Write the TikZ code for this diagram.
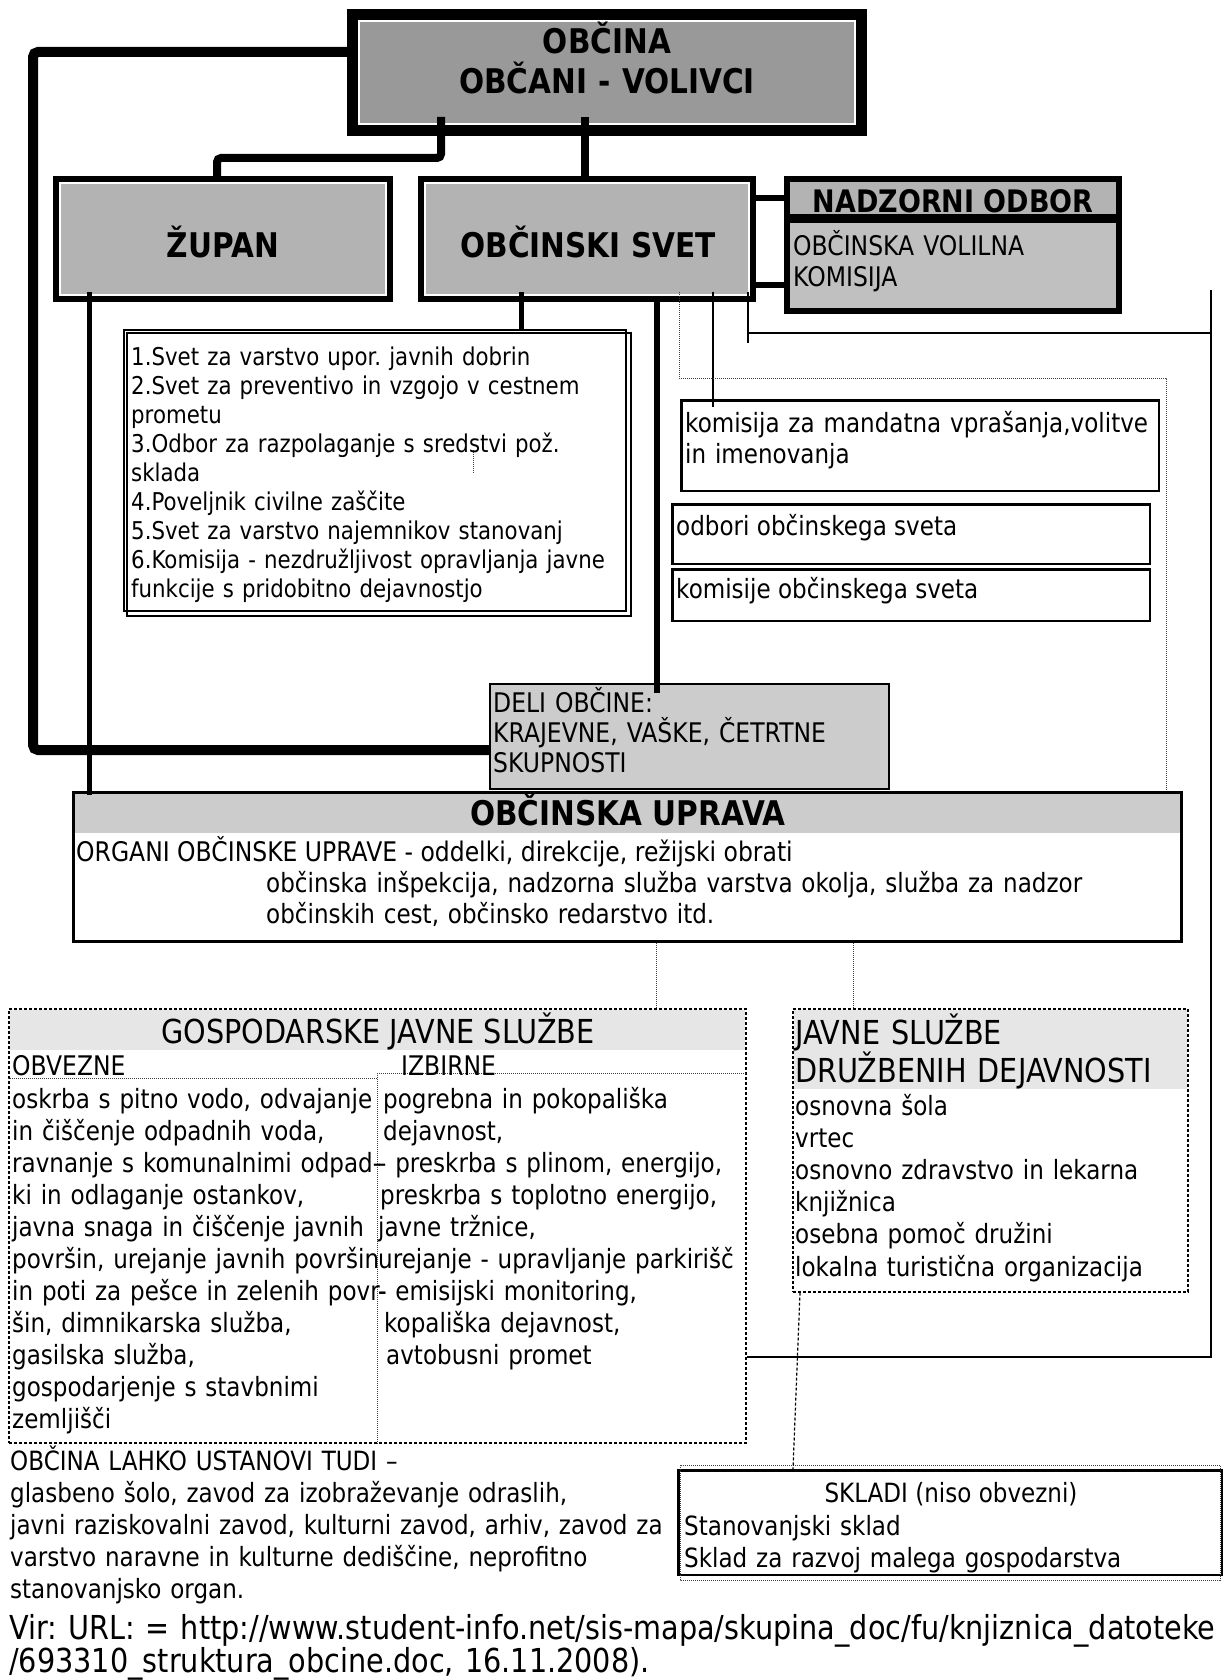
\documentclass[tikz,border=0pt]{standalone}
\usepackage{fontspec}
\setmainfont{DejaVu Sans}[FakeStretch=0.87]
\usepackage{xcolor}
\usepackage{tikz}
\usetikzlibrary{calc}

\definecolor{darkgr}{HTML}{999999}
\definecolor{midgr}{HTML}{B3B3B3}
\definecolor{lightgr}{HTML}{C0C0C0}
\definecolor{paleg}{HTML}{CCCCCC}
\definecolor{palest}{HTML}{E6E6E6}

\newcommand{\fsz}[2]{\fontsize{#1}{#2}\selectfont}
\frenchspacing

\begin{document}
\begin{tikzpicture}[x=1pt,y=-1pt,
  mainbox/.style={draw, line width=11pt, fill=darkgr, inner sep=0pt},
  headbox/.style={draw, line width=6pt, fill=midgr, inner sep=0pt},
  plainbox/.style={draw, line width=2.5pt, inner sep=0pt},
  dashbox/.style={draw, line width=1.2pt, dash pattern=on 3pt off 2pt, inner sep=0pt},
  txt/.style={anchor=base west, inner sep=0pt, align=left},
  bevel/.style={white, line width=2pt},
  bigline/.style={line width=10pt, rounded corners=5pt},
  midline/.style={line width=8pt, rounded corners=4pt},
  conn/.style={line width=5pt},
  thinconn/.style={line width=2.5pt},
  dotconn/.style={densely dotted, line width=1pt, black!75},
  dashconn/.style={dash pattern=on 3pt off 2pt, line width=1.2pt}]

\useasboundingbox (0,0) rectangle (1224,1680);

% Top level
\node[mainbox, minimum width=509pt, minimum height=116pt] (obcina) at (607,72.5) {};
\draw[bevel] ($(obcina.north west)+(12,12)$) rectangle ($(obcina.south east)+(-12,-12)$);
\node[headbox, minimum width=334pt, minimum height=120pt] (zupan) at (223,239) {};
\draw[bevel] ($(zupan.north west)+(7,7)$) rectangle ($(zupan.south east)+(-7,-7)$);
\node[headbox, minimum width=332pt, minimum height=120pt] (svet) at (587,239) {};
\draw[bevel] ($(svet.north west)+(7,7)$) rectangle ($(svet.south east)+(-7,-7)$);
\node[headbox, fill=lightgr, minimum width=332pt, minimum height=91pt] (volilna) at (953,265.5) {};
\node[headbox, minimum width=332pt, minimum height=38pt] (nadzor) at (953,198) {};

% Council bodies
\node[plainbox, line width=2pt, minimum width=502pt, minimum height=281pt] (rady) at (375,470.5) {};
\draw[line width=2pt] ($(rady.north west)+(4,4)$) rectangle ($(rady.south east)+(4,4)$);
\node[plainbox, minimum width=477.5pt, minimum height=90.5pt] (mandat) at (920,445.5) {};
\node[plainbox, minimum width=477.5pt, minimum height=59.5pt] (odbori) at (911,534) {};
\node[plainbox, minimum width=477.5pt, minimum height=51.5pt] (komisije) at (911,595) {};

% Administration
\node[plainbox, line width=2pt, fill=paleg, minimum width=399pt, minimum height=105pt] (deli) at (689.5,736.5) {};
\node[plainbox, line width=3pt, minimum width=1108pt, minimum height=149pt] (uprava) at (627.5,867) {};
\fill[paleg] ($(uprava.north west)+(3,3)$) rectangle ($(uprava.north east)+(-3,42)$);

% Public services
\node[dashbox, minimum width=737pt, minimum height=434pt] (gosp) at (377.5,1226) {};
\fill[palest] ($(gosp.north west)+(1.5,1.5)$) rectangle ($(gosp.north east)+(-1.5,42)$);
\node[dashbox, minimum width=395pt, minimum height=283pt] (javne) at (990.5,1150.5) {};
\fill[palest] ($(javne.north west)+(1.5,1.5)$) rectangle ($(javne.north east)+(-1.5,81)$);

% Funds
\node[plainbox, minimum width=543.5pt, minimum height=104.5pt] (sklad) at (950,1522.5) {};
\draw[dotconn] (680,1465) rectangle (1220,1580);

% Connectors
\draw[bigline] (obcina.west |- 0,52) -| (33,750) -- (deli.west |- 0,750);
\draw[midline, shorten <=-19pt] (obcina.south -| 441,0) |- (217,158) -- (zupan.north -| 217,0);
\draw[midline, shorten <=-19pt] (obcina.south -| 585,0) -- (svet.north -| 585,0);
\draw[conn, shorten <=-10pt, shorten >=-4pt] (zupan.south -| 89,0) -- (uprava.north -| 89,0);
\draw[conn, shorten <=-10pt] (svet.south -| 521,0) -- (rady.north -| 521,0);
\draw[conn, line width=6pt, shorten >=-10pt] (svet.south -| 657,0) -- (deli.north -| 657,0);
\draw[conn, line width=6pt] (svet.east |- nadzor.west) -- (nadzor.west);
\draw[conn, line width=6pt] (svet.east |- 0,285) -- (volilna.west |- 0,285);
\draw[thinconn, shorten <=-10pt, shorten >=-8pt] (svet.south -| 713,0) -- (mandat.north -| 713,0);
\draw[thinconn, shorten <=-10pt] (svet.south -| 748,0) -- (748,343);
\draw[thinconn] (748,333) -- (1211,333);
\draw[thinconn] (1211,290) -- (1211,1357) -- (gosp.east |- 0,1357);
\draw[dotconn, shorten <=-10pt] (svet.south -| 679,0) -- (679,378) -- (1166,378) -- (uprava.north -| 1166,0);
\draw[dotconn] (uprava.south -| 656,0) -- (gosp.north -| 656,0);
\draw[dotconn] (uprava.south -| 853,0) -- (javne.north -| 853,0);
\draw[dashconn] (javne.south -| 800,0) -- (sklad.north -| 793,0);
\draw[dotconn] (473,450) -- (473,473);

% Columns of the services
\draw[dotconn] (gosp.west |- 0,1078) -- (377,1078);
\draw[dotconn] (377,1073) -- (gosp.east |- 0,1073);
\draw[dotconn] (377,1073) -- (gosp.south -| 377,0);

% Texts
\node[txt, font=\fsz{34}{40}\bfseries, align=center, text width=500pt, anchor=base] (obcinatxt) at (607,54) {OBČINA\\OBČANI - VOLIVCI};
\node[txt, font=\fsz{34}{40}\bfseries, anchor=base] (zupantxt) at (223,258) {ŽUPAN};
\node[txt, font=\fsz{34}{40}\bfseries, anchor=base] (svettxt) at (588,258) {OBČINSKI SVET};
\node[txt, font=\fsz{31}{36}\bfseries, anchor=base] (nadzortxt) at (953,213) {NADZORNI ODBOR};
\node[txt, font=\fsz{27}{32}, text width=600pt] (volilnatxt) at (793,255) {OBČINSKA VOLILNA\\KOMISIJA};

\node[txt, font=\fsz{24.5}{29}, text width=700pt] (radytxt) at (131,365) {1.Svet za varstvo upor. javnih dobrin\\
2.Svet za preventivo in vzgojo v cestnem\\
prometu\\
3.Odbor za razpolaganje s sredstvi pož.\\
sklada\\
4.Poveljnik civilne zaščite\\
5.Svet za varstvo najemnikov stanovanj\\
6.Komisija - nezdružljivost opravljanja javne\\
funkcije s pridobitno dejavnostjo};
\node[txt, font=\fsz{26.5}{31}, text width=700pt] (mandattxt) at (685,432) {komisija za mandatna vprašanja,volitve\\in imenovanja};
\node[txt, font=\fsz{26.5}{31}] (odboritxt) at (676,535) {odbori občinskega sveta};
\node[txt, font=\fsz{26.5}{31}] (komisijetxt) at (676,598) {komisije občinskega sveta};

\node[txt, font=\fsz{27}{30}, text width=700pt] (delitxt) at (493,712) {DELI OBČINE:\\KRAJEVNE, VAŠKE, ČETRTNE\\SKUPNOSTI};
\node[txt, font=\fsz{34}{40}\bfseries, anchor=base] (upravatxt) at (628,825) {OBČINSKA UPRAVA};
\node[txt, font=\fsz{27}{31.5}] (organitxt) at (76,861) {ORGANI OBČINSKE UPRAVE - oddelki, direkcije, režijski obrati};
\node[txt, font=\fsz{26.5}{31.5}, text width=1000pt] (sluzbetxt) at (266,892) {občinska inšpekcija, nadzorna služba varstva okolja, služba za nadzor\\občinskih cest, občinsko redarstvo itd.};

\node[txt, font=\fsz{33}{38}, anchor=base] (gosptxt) at (378,1043) {GOSPODARSKE JAVNE SLUŽBE};
\node[txt, font=\fsz{27}{32}] (obveznetxt) at (12,1075) {OBVEZNE};
\node[txt, font=\fsz{27}{32}] (izbirnetxt) at (401,1075) {IZBIRNE};
\node[txt, font=\fsz{26.5}{32}, text width=700pt] (levotxt) at (12,1108) {oskrba s pitno vodo, odvajanje\\
in čiščenje odpadnih voda,\\
ravnanje s komunalnimi odpad-\\
ki in odlaganje ostankov,\\
javna snaga in čiščenje javnih\\
površin, urejanje javnih površin\\
in poti za pešce in zelenih povr-\\
šin, dimnikarska služba,\\
gasilska služba,\\
gospodarjenje s stavbnimi\\
zemljišči};
\node[txt, font=\fsz{26.5}{32}, text width=700pt] (desnotxt) at (378,1108) {\hspace*{5pt}pogrebna in pokopališka\\
\hspace*{5pt}dejavnost,\\
- preskrba s plinom, energijo,\\
\hspace*{2pt}preskrba s toplotno energijo,\\
javne tržnice,\\
urejanje - upravljanje parkirišč\\
- emisijski monitoring,\\
\hspace*{6pt}kopališka dejavnost,\\
\hspace*{8pt}avtobusni promet};

\node[txt, font=\fsz{33}{38}, text width=700pt] (javnetxt) at (795,1044) {JAVNE SLUŽBE\\DRUŽBENIH DEJAVNOSTI};
\node[txt, font=\fsz{26.5}{32.2}, text width=700pt] (druzbenetxt) at (795,1115) {osnovna šola\\
vrtec\\
osnovno zdravstvo in lekarna\\
knjižnica\\
osebna pomoč družini\\
lokalna turistična organizacija};

\node[txt, font=\fsz{26.5}{32}, anchor=base] (skladtxt) at (951,1502) {SKLADI (niso obvezni)};
\node[txt, font=\fsz{26.5}{32}, text width=700pt] (skladitxt) at (684,1535) {Stanovanjski sklad\\Sklad za razvoj malega gospodarstva};

\node[txt, font=\fsz{26.5}{32}, text width=1000pt] (tuditxt) at (10,1470) {OBČINA LAHKO USTANOVI TUDI –\\
glasbeno šolo, zavod za izobraževanje odraslih,\\
javni raziskovalni zavod, kulturni zavod, arhiv, zavod za\\
varstvo naravne in kulturne dediščine, neprofitno\\
stanovanjsko organ.};
\node[txt, font=\fsz{33}{33}, text width=1300pt] (virtxt) at (9,1639) {Vir: URL: = http://www.student-info.net/sis-mapa/skupina\_doc/fu/knjiznica\_datoteke\\
/693310\_struktura\_obcine.doc, 16.11.2008).};

\end{tikzpicture}
\end{document}
